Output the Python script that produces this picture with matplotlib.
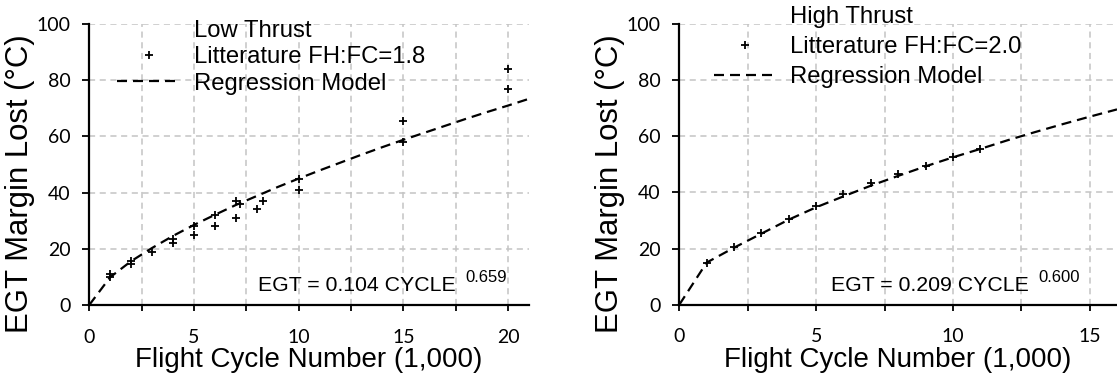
import matplotlib
matplotlib.use("Agg")
import matplotlib.pyplot as plt
from matplotlib.lines import Line2D
from matplotlib.ticker import MultipleLocator

# low thrust literature points (x in 1,000 cycles, EGT margin lost in C)
low_x = [1, 1, 2, 2, 3, 4, 4, 5, 5, 6, 6, 7, 7.2, 7, 8, 8.3, 10, 10, 15, 15, 20, 20]
low_y = [10, 11, 15.5, 14.5, 19, 23.5, 22, 28, 25, 32, 28, 37, 36, 31, 34, 37, 45, 41, 65.5, 58.2, 84, 77]
# regression model
low_model_x = [0, 1, 2, 3, 4, 5, 6, 7, 8, 9, 10, 11, 12, 13, 14, 15, 16, 17, 18, 19, 20, 21]
low_model_y = [0, 9.9, 15.6, 20.3, 24.6, 28.5, 32.1, 35.6, 38.8, 42.0, 45.0, 47.9, 50.7,
               53.5, 56.2, 58.8, 61.3, 63.8, 66.3, 68.7, 71.0, 73.4]

high_x = [1, 2, 3, 4, 5, 6, 7, 8, 9, 10, 11]
high_y = [15, 20.5, 25.5, 30.6, 35, 39.3, 43.3, 46.4, 49.4, 52.6, 55.6]
high_model_x = [0, 1, 2, 3, 4, 5, 6, 7, 8, 9, 10, 11, 12, 13, 14, 15, 16]
high_model_y = [0, 15, 20.3, 25.3, 30.3, 34.7, 38.6, 42.4, 45.9, 49.3, 52.5, 55.5, 58.6,
                61.5, 64.3, 67.0, 69.6]

fig = plt.figure(figsize=(11.17, 3.77), dpi=100)
ax1 = fig.add_axes([0.0799, 0.191, 0.3936, 0.745])
ax2 = fig.add_axes([0.6082, 0.192, 0.3918, 0.744])

label_font = "Liberation Sans"
tick_font = "Lato"
dash = (0, (4.5, 2.7))


def style(ax, xmax, title, lit_label, lspacing, anchor):
    ax.set_xlim(0, xmax)
    ax.set_ylim(0, 100)
    ax.xaxis.set_major_locator(MultipleLocator(5))
    ax.xaxis.set_minor_locator(MultipleLocator(2.5))
    ax.yaxis.set_major_locator(MultipleLocator(20))
    ax.grid(True, which="both", axis="x", color="#c4c4c4", linestyle=(0, (4, 3)), linewidth=1.1)
    ax.grid(True, which="major", axis="y", color="#c4c4c4", linestyle=(0, (4, 3)), linewidth=1.1)
    ax.set_axisbelow(True)
    for s in ["top", "right"]:
        ax.spines[s].set_visible(False)
    for s in ["left", "bottom"]:
        ax.spines[s].set_linewidth(1.6)
    ax.tick_params(axis="x", which="both", direction="out", length=4, width=1.3, pad=13)
    ax.tick_params(axis="y", direction="out", length=4.8, width=1.3, pad=8.5)
    ax.tick_params(axis="x", which="minor", labelbottom=False)
    for lab in ax.get_xticklabels() + ax.get_yticklabels():
        lab.set_fontfamily(tick_font)
        lab.set_fontsize(14)
    ax.set_xlabel("Flight Cycle Number (1,000)", fontsize=20, fontfamily=label_font, labelpad=1)
    ax.set_ylabel("EGT Margin Lost (°C)", fontsize=22.4, fontfamily=label_font)
    ax.yaxis.set_label_coords(-0.123, 0.432)
    handles = [Line2D([], [], linestyle="none"),
               Line2D([], [], linestyle="none", marker="+", color="black", markersize=6, mew=1.3),
               Line2D([], [], color="black", linewidth=1.6, linestyle=dash)]
    leg = ax.legend(handles, [title, lit_label, "Regression Model"], frameon=False,
                    prop={"family": label_font, "size": 17.2}, handlelength=2.65,
                    handletextpad=0.55, labelspacing=lspacing, borderaxespad=0,
                    borderpad=0, loc="upper left", bbox_to_anchor=anchor)
    return leg


ax1.plot(low_model_x, low_model_y, color="black", linewidth=1.6, linestyle=dash, clip_on=False)
ax1.plot(low_x, low_y, linestyle="none", marker="+", color="black", markersize=6, mew=1.3)
style(ax1, 21, "Low Thrust", "Litterature FH:FC=1.8", 0.18, (0.0635, 1.014))

ax2.plot(high_model_x, high_model_y, color="black", linewidth=1.6, linestyle=dash, clip_on=False)
ax2.plot(high_x, high_y, linestyle="none", marker="+", color="black", markersize=6, mew=1.3)
style(ax2, 16, "High Thrust", "Litterature FH:FC=2.0", 0.34, (0.0785, 1.065))
ax2.yaxis.set_label_coords(-0.124, 0.432)

t1 = ax1.text(8.05, 5, "EGT = 0.104 CYCLE", fontsize=15.3, fontfamily=label_font)
ax1.annotate("0.659", xy=(1, 0), xycoords=t1, xytext=(7, 9), textcoords="offset points",
             fontsize=12, fontfamily=label_font, va="baseline")
t2 = ax2.text(5.55, 5, "EGT = 0.209 CYCLE", fontsize=15.3, fontfamily=label_font)
ax2.annotate("0.600", xy=(1, 0), xycoords=t2, xytext=(7, 9), textcoords="offset points",
             fontsize=12, fontfamily=label_font, va="baseline")

fig.savefig("out.png", dpi=100)
